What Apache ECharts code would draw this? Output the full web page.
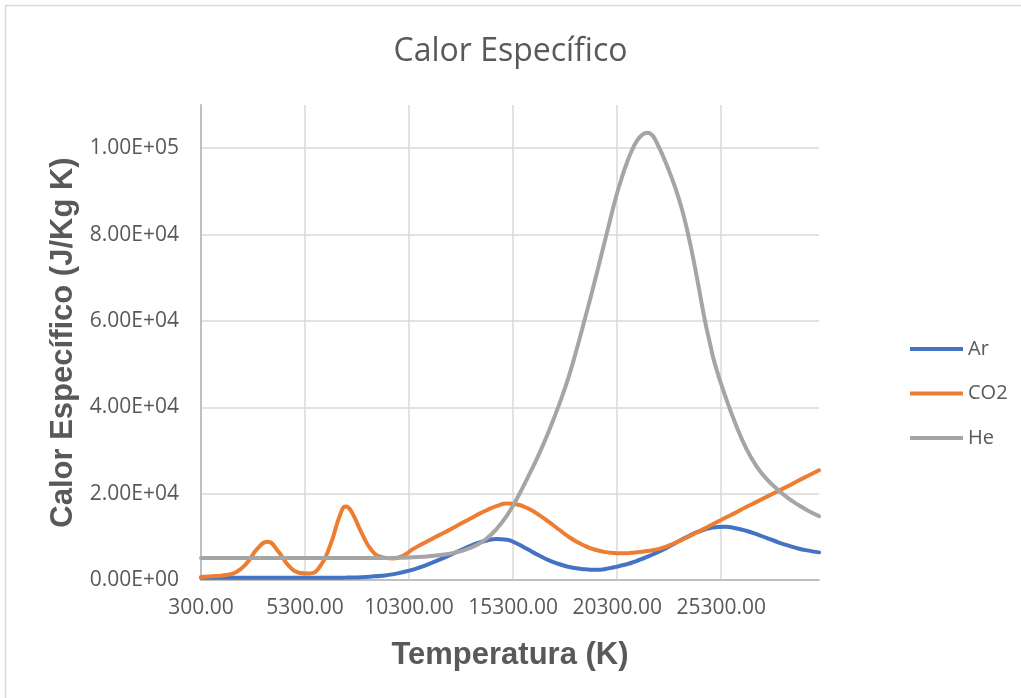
<!DOCTYPE html>
<html>
<head>
<meta charset="utf-8">
<title>Calor Específico</title>
<script src="https://cdn.jsdelivr.net/npm/echarts@6/dist/echarts.min.js"></script>
<style>
  html, body { margin: 0; padding: 0; background: #ffffff; }
  #chart { width: 1021px; height: 698px; }
</style>
</head>
<body>
<div id="chart"></div>
<script>
// Temperatura (K) — finer steps around the He maximum
const temperatures = [300, 1000, 1500, 2000, 2500, 3000, 3500, 4000, 4500, 5000, 5500, 6000, 6500, 7000, 7250,
  7500, 8000, 8500, 9000, 9500, 10000, 10500, 11000, 11500, 12000, 12500, 13000, 13500, 14000, 14500,
  15000, 15500, 16000, 16500, 17000, 17500, 18000,
  18500, 18750, 19000, 19250, 19500, 19750, 20000, 20250, 20500, 20750, 21000, 21250, 21500, 21750,
  22000, 22250, 22500, 22750, 23000, 23250, 23500, 23750, 24000, 24250, 24500, 24750, 25000,
  25500, 26000, 26500, 27000, 27500, 28000, 28500, 29000, 29500, 30000];

// Calor específico (J/Kg K)
const ar = [500, 500, 500, 500, 500, 500, 500, 500, 500, 500, 500, 500, 520, 540, 550,
  570, 650, 800, 1000, 1300, 1800, 2400, 3200, 4200, 5200, 6300, 7400, 8400, 9100, 9500,
  9300, 8400, 7100, 5800, 4600, 3700, 3000,
  2600, 2480, 2400, 2370, 2400, 2550, 2800, 3050, 3350, 3650, 4000, 4450, 4900, 5400,
  5900, 6450, 7000, 7650, 8300, 8950, 9600, 10200, 10800, 11250, 11700, 12000, 12200,
  12350, 12000, 11400, 10600, 9700, 8800, 8000, 7300, 6800, 6400];

const co2 = [700, 900, 1150, 1850, 3900, 7200, 8850, 6700, 3400, 1700, 1500, 3000, 7900, 15300, 17000,
  16100, 11100, 6900, 5300, 5000, 5600, 7200, 8500, 9800, 11000, 12300, 13600, 14900, 16100, 17100,
  17700, 17500, 16600, 15200, 13500, 11700, 9900,
  8500, 7900, 7400, 7000, 6700, 6450, 6300, 6220, 6200, 6220, 6300, 6420, 6550, 6700,
  6900, 7150, 7500, 7930, 8400, 8950, 9500, 10100, 10700, 11300, 11900, 12550, 13200,
  14400, 15600, 16900, 18100, 19300, 20500, 21700, 23000, 24200, 25400];

const he = [5100, 5100, 5100, 5100, 5100, 5100, 5100, 5100, 5100, 5100, 5100, 5100, 5100, 5100, 5100,
  5100, 5100, 5100, 5100, 5100, 5150, 5250, 5400, 5600, 5900, 6350, 7000, 8000, 9500, 11800,
  14900, 19000, 23700, 28700, 34300, 40500, 47500,
  56000, 60500, 65000, 69700, 74500, 79300, 84100, 88800, 92800, 96400, 99400, 101700, 103100, 103550,
  102900, 100800, 98200, 95300, 92100, 88500, 84300, 79200, 73400, 67000, 60500, 55000, 50000,
  42500, 36000, 30500, 26300, 23300, 21000, 19000, 17400, 16000, 14800];

const seriesNames = ['Ar', 'CO2', 'He'];
const seriesColors = ['#4472C4', '#ED7D31', '#A5A5A5'];

const textGray = '#595959';

function pairs(values) {
  return temperatures.map((t, i) => [t, values[i]]);
}

// Scientific notation with two decimals and a two-digit exponent, e.g. 2.00E+04
function sci(v) {
  if (v === 0) return '0.00E+00';
  const e = Math.floor(Math.log10(Math.abs(v)) + 1e-9);
  const m = v / Math.pow(10, e);
  const sign = e < 0 ? '-' : '+';
  return m.toFixed(2) + 'E' + sign + String(Math.abs(e)).padStart(2, '0');
}

const chart = echarts.init(document.getElementById('chart'));

chart.setOption({
  backgroundColor: '#ffffff',
  animation: false,
  title: {
    text: 'Calor Específico',
    left: 'center',
    top: 31,
    textStyle: { fontFamily: 'Open Sans', fontSize: 32, fontWeight: 'normal', color: textGray }
  },
  graphic: [{
    type: 'rect',
    shape: { x: 5.5, y: 5.5, width: 1100, height: 1000 },
    style: { fill: 'none', stroke: '#d9d9d9', lineWidth: 1.5 },
    silent: true
  }],
  legend: {
    orient: 'vertical',
    left: 905,
    top: 334,
    icon: 'rect',
    itemWidth: 53,
    itemHeight: 4,
    itemGap: 24.5,
    data: seriesNames,
    textStyle: { fontFamily: 'Open Sans', fontSize: 20, color: textGray }
  },
  grid: { left: 201, right: 202, top: 105, bottom: 118, containLabel: false },
  xAxis: {
    type: 'value',
    min: 300,
    max: 30000,
    interval: 5000,
    name: 'Temperatura (K)',
    nameLocation: 'middle',
    nameGap: 60,
    nameTextStyle: { fontFamily: 'Liberation Sans', fontWeight: 'bold', fontSize: 31, color: textGray },
    axisLine: { show: true, lineStyle: { color: '#bfbfbf', width: 2 } },
    axisTick: { show: false },
    axisLabel: {
      showMaxLabel: false,
      margin: 18,
      fontFamily: 'Open Sans', fontSize: 21, color: textGray,
      formatter: v => v.toFixed(2)
    },
    splitLine: { show: true, showMaxLine: false, lineStyle: { color: '#d9d9d9', width: 1.5 } }
  },
  yAxis: {
    type: 'value',
    min: 0,
    max: 110000,
    interval: 20000,
    name: 'Calor Específico (J/Kg K)',
    nameLocation: 'middle',
    nameGap: 118,
    nameTextStyle: { fontFamily: 'Liberation Sans', fontWeight: 'bold', fontSize: 31, color: textGray },
    axisLine: { show: true, lineStyle: { color: '#bfbfbf', width: 2 } },
    axisTick: { show: false },
    axisLabel: {
      showMaxLabel: false,
      margin: 22,
      fontFamily: 'Open Sans', fontSize: 21, color: textGray,
      formatter: v => sci(v)
    },
    splitLine: { show: true, showMaxLine: false, lineStyle: { color: '#d9d9d9', width: 1.5 } }
  },
  series: [ar, co2, he].map((values, i) => ({
    name: seriesNames[i],
    type: 'line',
    data: pairs(values),
    smooth: 0.5,
    symbol: 'none',
    lineStyle: { color: seriesColors[i], width: 4, cap: 'round' },
    itemStyle: { color: seriesColors[i] },
    z: 3 + i
  }))
});
</script>
</body>
</html>
